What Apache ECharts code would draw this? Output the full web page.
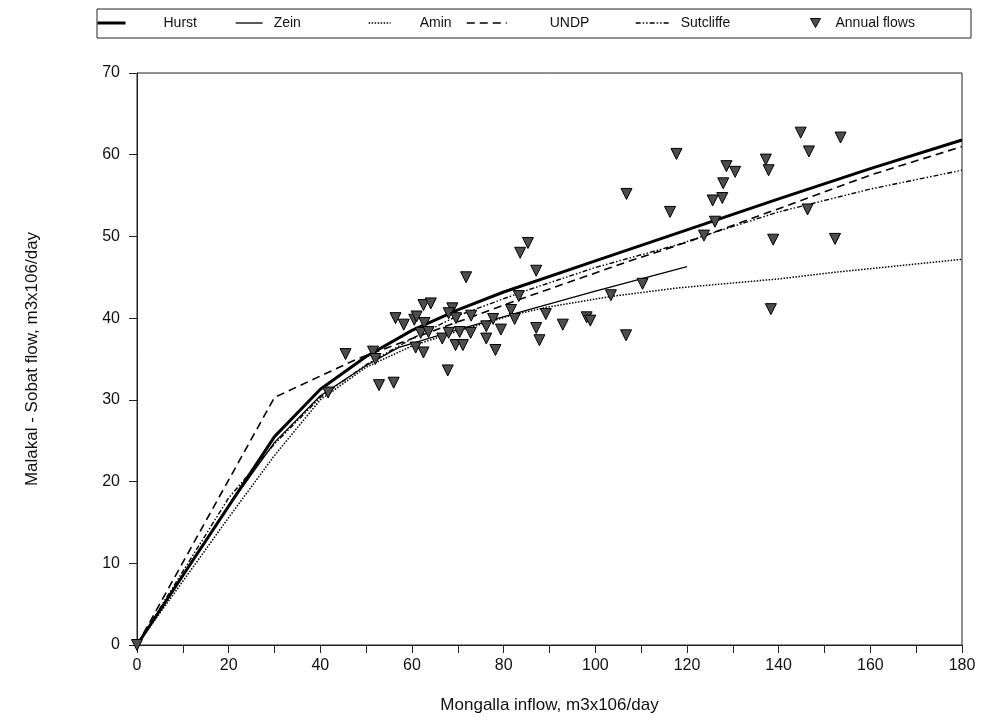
<!DOCTYPE html>
<html>
<head>
<meta charset="utf-8">
<script src="https://cdn.jsdelivr.net/npm/echarts@6/dist/echarts.min.js"></script>
<style>html,body{margin:0;padding:0;background:#fff;}#c{width:991px;height:720px;}</style>
</head>
<body>
<div id="c"></div>
<script>
// Data (x = Mongalla inflow, y = Malakal - Sobat flow), m3x10^6/day
var hurst = [[0,0],[10,8.5],[20,17],[30,25.5],[40,31.3],[50,35.3],[60,38.5],[70,41],[80,43.2],[100,47],[120,50.8],[140,54.6],[160,58.3],[180,61.8]];
var zein = [[0,0],[10,8.5],[20,17],[30,24.8],[40,30.5],[50,34.2],[57,36.4],[70,38.6],[82,40.5],[100,43.3],[120,46.3]];
var amin = [[0,0],[10,7.8],[20,15.6],[30,23.2],[40,30],[50,34],[60,36.6],[70,38.4],[82,40.4],[90,41.4],[104,42.7],[118,43.7],[140,44.8],[152,45.6],[180,47.2]];
var undp = [[0,0],[30,30.3],[48,35],[60,37.5],[84,42.4],[107,46.9],[120,49.3],[140,53.4],[160,57.5],[180,61]];
var sutcliffe = [[0,0],[10,9],[20,18],[30,24.6],[40,30.3],[50,34.3],[60,37.5],[70,40.3],[84,43.2],[100,46.2],[118,49],[126,50.5],[140,53],[160,55.8],[180,58.1]];
var annualFlows = [[0,0],[41.7,30.9],[45.5,35.6],[51.5,35.9],[52,35],[52.8,31.8],[56,32.1],[56.4,40.0],[58.2,39.2],[60.5,39.8],[61,40.2],[62.5,41.6],[64.1,41.8],[62.7,39.4],[61.9,38.2],[63.6,38.3],[60.8,36.4],[62.5,35.8],[67.8,33.6],[66.6,37.5],[68.0,38.2],[68.8,41.2],[68.0,40.6],[69.6,40.0],[69.5,36.7],[71.1,36.7],[70.4,38.3],[72.8,38.2],[72.9,40.3],[76.2,39.0],[76.2,37.5],[71.8,45.0],[77.7,39.9],[79.4,38.6],[78.2,36.1],[81.6,41.0],[82.4,39.9],[83.3,42.7],[83.6,48.0],[85.3,49.2],[87.1,45.8],[87.1,38.8],[87.8,37.3],[89.2,40.5],[92.9,39.2],[98.1,40.1],[98.9,39.7],[103.4,42.8],[106.7,37.9],[106.8,55.2],[110.3,44.2],[116.3,53.0],[117.7,60.1],[123.7,50.1],[125.6,54.4],[126.1,51.8],[127.7,54.7],[127.9,56.5],[128.6,58.6],[130.5,57.9],[137.2,59.4],[137.8,58.1],[138.3,41.1],[138.8,49.6],[144.8,62.7],[146.3,53.3],[146.6,60.4],[152.3,49.7],[153.5,62.1]];
var xTicks = {min:0, max:180, interval:20};
var yTicks = {min:0, max:70, interval:10};
var xTitle = 'Mongalla inflow, m3x106/day';
var yTitle = 'Malakal - Sobat flow, m3x106/day';

var FONT = '"Liberation Sans", Arial, sans-serif';
var chart = echarts.init(document.getElementById('c'), null, {renderer:'canvas'});

function lg(name, left, textPad, w, lw, dash) {
  return {
    data:[name], left:left, top:16, padding:0, itemGap:0,
    itemWidth:w, itemHeight:14,
    itemStyle:{opacity:0},
    lineStyle:{color:'#000', width:lw, type:dash, opacity:1},
    textStyle:{fontFamily:FONT, fontSize:14, color:'#111', padding:[0,0,0,textPad]}
  };
}

chart.setOption({
  animation:false,
  backgroundColor:'#fff',
  graphic:[{type:'rect', shape:{x:97,y:9,width:874,height:29}, style:{fill:'none', stroke:'#222', lineWidth:1}, z:-1}],
  legend:[
    lg('Hurst', 96, 33, 28, 3, 'solid'),
    lg('Zein', 235, 6, 27, 1.3, 'solid'),
    lg('Amin', 368, 24, 22, 1.3, [1.5,1.5]),
    lg('UNDP', 466, 38, 40, 1.5, [8,5]),
    lg('Sutcliffe', 635, 6, 34, 1.3, [5,2,1.5,2,1.5,2]),
    {
      data:[{name:'Annual flows', icon:'path://M0,0 L10,0 L5,9 Z'}], left:810, top:16, padding:0, itemGap:0,
      itemWidth:10, itemHeight:10,
      itemStyle:{color:'#4d4d4d', borderColor:'#000', borderWidth:1},
      textStyle:{fontFamily:FONT, fontSize:14, color:'#111', padding:[0,0,0,10]}
    }
  ],
  grid:{left:137, right:29, top:73, bottom:75, show:true, borderColor:'#222', borderWidth:1},
  xAxis:{
    type:'value', min:xTicks.min, max:xTicks.max, interval:xTicks.interval,
    name:xTitle, nameLocation:'middle', nameGap:52,
    nameTextStyle:{fontFamily:FONT, fontSize:17, color:'#111'},
    axisLine:{show:true, onZero:false, lineStyle:{color:'#222'}},
    axisTick:{show:true, length:8, lineStyle:{color:'#222'}},
    minorTick:{show:true, splitNumber:2, length:8, lineStyle:{color:'#222'}},
    axisLabel:{fontFamily:FONT, fontSize:16, color:'#111', margin:13},
    splitLine:{show:false}
  },
  yAxis:{
    type:'value', min:yTicks.min, max:yTicks.max, interval:yTicks.interval,
    name:yTitle, nameLocation:'middle', nameGap:96,
    nameTextStyle:{fontFamily:FONT, fontSize:17, color:'#111'},
    axisLine:{show:true, onZero:false, lineStyle:{color:'#222'}},
    axisTick:{show:true, length:8, lineStyle:{color:'#222'}},
    axisLabel:{fontFamily:FONT, fontSize:16, color:'#111', margin:17},
    splitLine:{show:false}
  },
  series:[
    {name:'Hurst', type:'line', data:hurst, symbol:'none', itemStyle:{color:'#000'}, lineStyle:{color:'#000', width:3}, z:5},
    {name:'Zein', type:'line', data:zein, symbol:'none', itemStyle:{color:'#000'}, lineStyle:{color:'#000', width:1.3}},
    {name:'Amin', type:'line', data:amin, symbol:'none', itemStyle:{color:'#000'}, lineStyle:{color:'#000', width:1.5, type:[1.5,1.5]}},
    {name:'UNDP', type:'line', data:undp, symbol:'none', itemStyle:{color:'#000'}, lineStyle:{color:'#000', width:1.6, type:[8,5]}},
    {name:'Sutcliffe', type:'line', data:sutcliffe, symbol:'none', itemStyle:{color:'#000'}, lineStyle:{color:'#000', width:1.4, type:[5,2,1.5,2,1.5,2]}},
    {name:'Annual flows', type:'scatter', data:annualFlows, symbol:'triangle', symbolRotate:180, symbolSize:11,
      itemStyle:{color:'#4d4d4d', borderColor:'#000', borderWidth:1, opacity:1}, z:6}
  ]
});
</script>
</body>
</html>
